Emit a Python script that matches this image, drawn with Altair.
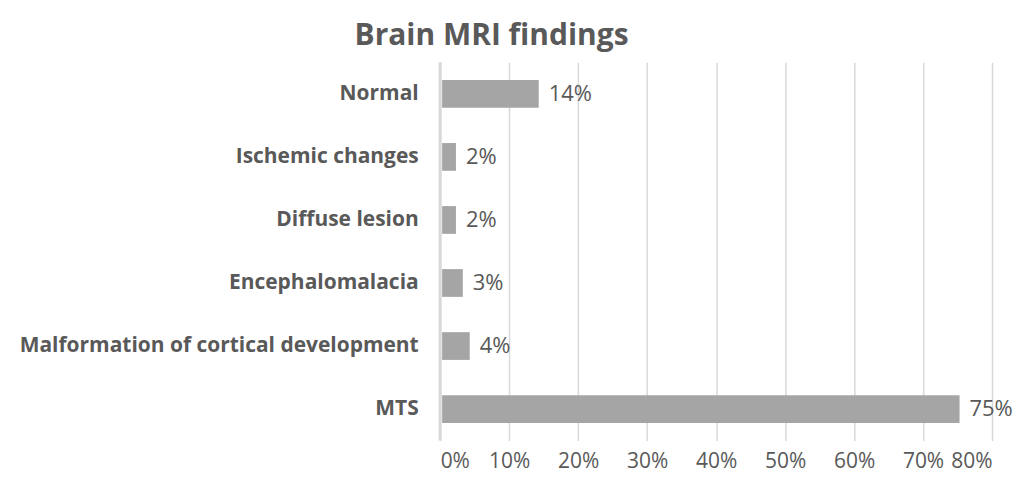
import altair as alt
import pandas as pd

categories = ["Normal", "Ischemic changes", "Diffuse lesion", "Encephalomalacia",
              "Malformation of cortical development", "MTS"]
values = [0.14, 0.02, 0.02, 0.03, 0.04, 0.75]
labels = ["14%", "2%", "2%", "3%", "4%", "75%"]

df = pd.DataFrame({"cat": categories, "val": values, "lbl": labels})
FONT = "Open Sans"
GRAY = "#595959"

x = alt.X("val:Q", scale=alt.Scale(domain=[0, 0.8], nice=False),
          axis=alt.Axis(format=".0%", values=[i / 10 for i in range(9)], title=None,
                        grid=True, gridColor="#D9D9D9", gridWidth=1.5, domain=False,
                        ticks=False, labelFontSize=21, labelColor=GRAY, labelFont=FONT,
                        labelPadding=10))
y = alt.Y("cat:N", sort=categories,
          scale=alt.Scale(paddingInner=0.56, paddingOuter=0.28),
          axis=alt.Axis(title=None, domain=False, ticks=False, labelFontSize=21,
                        labelFontWeight="bold", labelColor=GRAY, labelFont=FONT,
                        labelPadding=22, labelLimit=0, minExtent=420, maxExtent=420))

base = alt.Chart(df)
bars = base.mark_bar(color="#A5A5A5", xOffset=2).encode(x=x, y=y)
text = base.mark_text(align="left", dx=12, fontSize=22, color=GRAY, font=FONT).encode(
    x="val:Q", y=alt.Y("cat:N", sort=categories), text="lbl:N")
zero = alt.Chart(pd.DataFrame({"z": [0]})).mark_rule(color="#D9D9D9", strokeWidth=3).encode(
    x="z:Q")

chart = alt.layer(zero, bars, text).properties(
    width=553, height=379,
    padding={"left": 10, "top": 12, "right": 0, "bottom": 3},
    title=alt.TitleParams("Brain MRI findings", fontSize=30, fontWeight="bold",
                          color=GRAY, font=FONT, anchor="middle", dx=-225, offset=10)
).configure_view(stroke=None)

chart.save("out.html", embed_options={"renderer": "svg", "actions": False})
